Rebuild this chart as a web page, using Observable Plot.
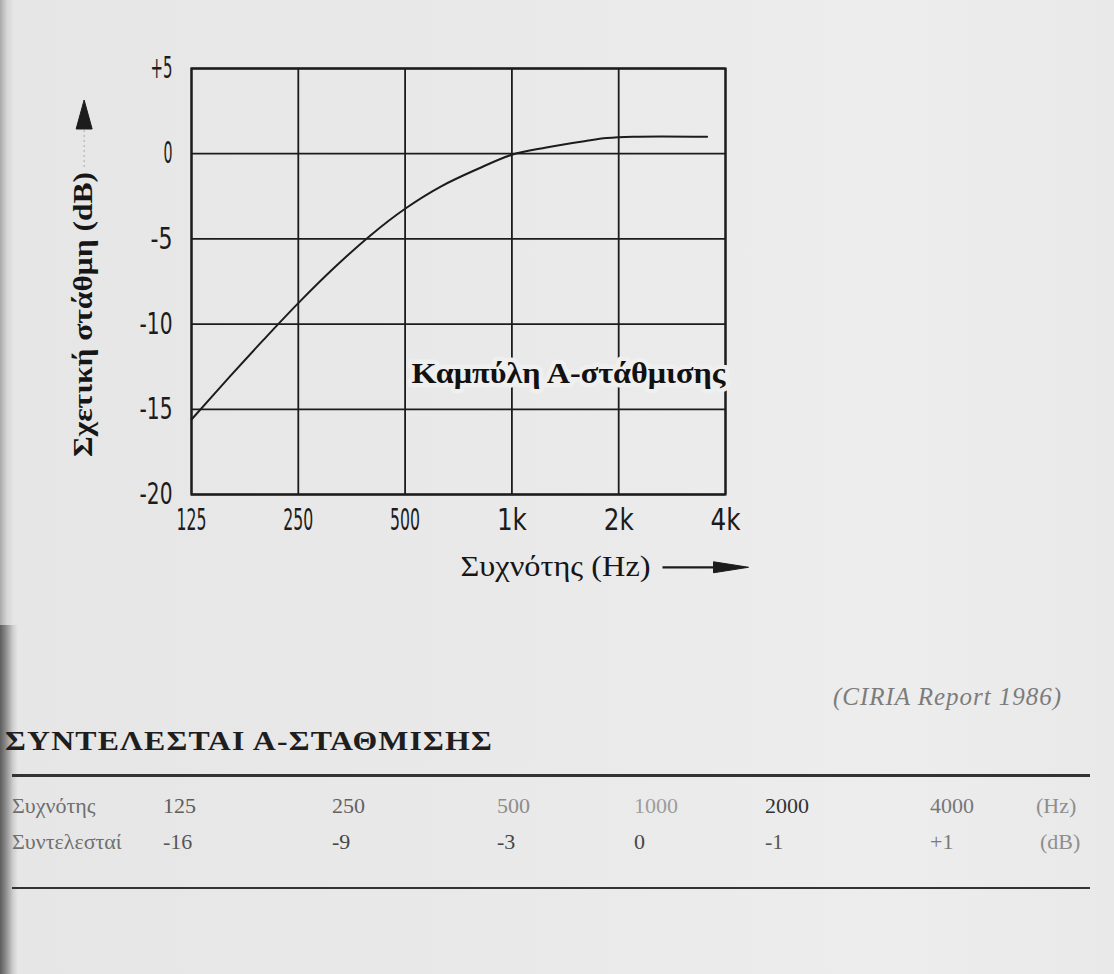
<!DOCTYPE html>
<html lang="el">
<head>
<meta charset="utf-8">
<title>Καμπύλη Α-στάθμισης</title>
<script src="https://cdn.jsdelivr.net/npm/d3@7"></script>
<script src="https://cdn.jsdelivr.net/npm/@observablehq/plot@0.6"></script>
<style>
  html, body { margin: 0; padding: 0; }
  body {
    width: 1114px; height: 974px; position: relative; overflow: hidden;
    background: linear-gradient(to right, #e6e6e6 0%, #e9e9e9 45%, #ededed 80%, #e9e9e9 100%);
    font-family: "Liberation Serif", "DejaVu Serif", serif;
  }
  .shadow { position: absolute; left: 0; width: 18px; }
  .shadow.top { top: 0; height: 625px; background: linear-gradient(to right, #a9a9a9 0px, #d6d6d6 7px, rgba(230,230,230,0) 14px); }
  .shadow.bottom { top: 625px; height: 349px; background: linear-gradient(to right, #5c5c5c 0px, #8d8d8d 6px, #cfcfcf 13px, rgba(230,230,230,0) 18px); }
  #chart { position: absolute; left: 0; top: 0; }
  #chart svg { overflow: visible; }
  .note { position: absolute; white-space: nowrap; line-height: 1; transform-origin: 0 50%; }
  #source { left: 833px; top: 684px; font-size: 25px; font-style: italic; color: #7c7c7c; }
  #table-title { left: 5px; top: 728px; font-size: 27px; font-weight: bold; color: #1e1e1e; letter-spacing: 1px; }
  .rule { position: absolute; left: 12px; width: 1078px; height: 2px; background: #333; }
  .cell { position: absolute; white-space: nowrap; line-height: 1; font-size: 22px; }
</style>
</head>
<body>
<div class="shadow top"></div>
<div class="shadow bottom"></div>
<div id="chart"></div>
<div id="source" class="note">(CIRIA Report 1986)</div>
<div id="table-title" class="note">ΣΥΝΤΕΛΕΣΤΑΙ Α-ΣΤΑΘΜΙΣΗΣ</div>
<div class="rule" style="top:774px;height:2.5px"></div>
<div id="table"></div>
<div class="rule" style="top:887px"></div>
<script>
// Frequency axis (octave bands) and level axis
const freqTicks = [125, 250, 500, 1000, 2000, 4000];
const freqTickLabels = ["125", "250", "500", "1k", "2k", "4k"];
const levelTicks = [-20, -15, -10, -5, 0, 5];
const levelTickLabels = ["-20", "-15", "-10", "-5", "0", "+5"];

// A-weighting curve, relative level (dB) against frequency (Hz)
const curveFreqs = [125, 160, 200, 250, 315, 400, 500, 630, 800, 1000, 1250, 1600, 1850, 2200, 3550];
const curveLevels = [-15.6, -13.1, -10.9, -8.77, -6.71, -4.78, -3.23, -1.93, -0.9, -0.06, 0.36, 0.73, 0.92, 1.0, 1.0];

// Curve annotation and where it sits on the chart
const curveLabel = "Καμπύλη Α-στάθμισης";
const curveLabelFreq = 1443;
const curveLabelLevel = -12.9;

const xLabel = "Συχνότης (Hz)";
const yLabel = "Σχετική στάθμη (dB)";

// Coefficient table
const rowLabels = ["Συχνότης", "Συντελεσταί"];
const tableFreqs = ["125", "250", "500", "1000", "2000", "4000"];
const tableCoefs = ["-16", "-9", "-3", "0", "-1", "+1"];
const rowUnits = ["(Hz)", "(dB)"];

const curve = curveFreqs.map((f, i) => ({ f, db: curveLevels[i] }));

const tickFont = "'DejaVu Sans', 'Liberation Sans', sans-serif";
const serif = "'Liberation Serif', 'DejaVu Serif', serif";
const ink = "#1c1c1c";

const svg = Plot.plot({
  width: 800,
  height: 600,
  marginLeft: 191,
  marginRight: 75,
  marginTop: 68,
  marginBottom: 106,
  style: { background: "transparent", color: ink },
  x: { type: "log", domain: [125, 4000] },
  y: { domain: [-20, 5] },
  marks: [
    Plot.ruleX(freqTicks, { stroke: ink, strokeWidth: 1.8 }),
    Plot.ruleY(levelTicks, { stroke: ink, strokeWidth: 1.8 }),
    Plot.frame({ stroke: ink, strokeWidth: 2.2 }),
    Plot.line(curve, { x: "f", y: "db", curve: "catmull-rom", stroke: ink, strokeWidth: 2 }),
    Plot.text([{ f: curveLabelFreq, db: curveLabelLevel, t: curveLabel }], {
      x: "f", y: "db", text: "t",
      fontSize: 30, fontWeight: "bold", fontFamily: serif,
      fill: "#111", stroke: "#efefef", strokeWidth: 9
    }),
    Plot.axisX(freqTicks, {
      tickFormat: d => freqTickLabels[freqTicks.indexOf(d)],
      tickSize: 0, tickPadding: 14, label: null,
      fontSize: 30, fontFamily: tickFont, fill: ink
    }),
    Plot.axisY(levelTicks, {
      tickFormat: d => levelTickLabels[levelTicks.indexOf(d)],
      tickSize: 0, tickPadding: 19, label: null,
      fontSize: 30, fontFamily: tickFont, fill: ink
    }),
    Plot.text([yLabel], {
      frameAnchor: "left", dx: -108, dy: 33, rotate: -90,
      textAnchor: "middle", lineAnchor: "middle",
      fontSize: 27, fontWeight: "bold", fontFamily: serif, fill: "#161616"
    }),
    Plot.text([xLabel], {
      frameAnchor: "bottom", dx: 97, dy: 72,
      textAnchor: "middle", lineAnchor: "middle",
      fontSize: 29, fontFamily: serif, fill: "#161616"
    })
  ]
});

document.getElementById("chart").append(svg);

const findText = s => [...svg.querySelectorAll("text")].find(t => t.textContent === s);

// Stretch (or squeeze) a piece of SVG text to a set length
function fitText(el, width, adjust = "spacingAndGlyphs") {
  if (!el) return;
  el.setAttribute("textLength", width);
  el.setAttribute("lengthAdjust", adjust);
}
fitText(findText(yLabel), 285);
fitText(findText(xLabel), 190);
fitText(findText(curveLabel), 314);

// Narrow plotter-style tick numerals
svg.querySelectorAll('[aria-label="x-axis tick label"] text').forEach(t => fitText(t, 30));
svg.querySelectorAll('[aria-label="y-axis tick label"] text').forEach(t => {
  const n = t.textContent.length;
  fitText(t, n === 1 ? 9 : n * 11);
});

// Direction arrows beside the axis titles
const svgBox = svg.getBoundingClientRect();
const box = el => {
  const r = el.getBoundingClientRect();
  return { left: r.left - svgBox.left, right: r.right - svgBox.left, top: r.top - svgBox.top, bottom: r.bottom - svgBox.top };
};
const arrows = d3.select(svg).append("g").attr("fill", ink).attr("stroke", ink);

const xb = box(findText(xLabel));
const xc = (xb.top + xb.bottom) / 2 + 1;
arrows.append("line")
  .attr("x1", xb.right + 12).attr("x2", xb.right + 70)
  .attr("y1", xc).attr("y2", xc).attr("stroke-width", 2.2);
arrows.append("path")
  .attr("d", `M${xb.right + 63},${xc - 5.5} L${xb.right + 98},${xc} L${xb.right + 63},${xc + 5.5} Z`)
  .attr("stroke-width", 1);

const yb = box(findText(yLabel));
const ycx = (yb.left + yb.right) / 2 + 1;
arrows.append("path")
  .attr("d", `M${ycx},${yb.top - 72} L${ycx + 8},${yb.top - 43} L${ycx - 8},${yb.top - 43} Z`)
  .attr("stroke-width", 1);
arrows.append("line")
  .attr("x1", ycx).attr("x2", ycx)
  .attr("y1", yb.top - 42).attr("y2", yb.top - 4)
  .attr("stroke", "#a8a8a8").attr("stroke-width", 1).attr("stroke-dasharray", "2 3");

// Widen the heading's letterforms to its set width; spread the source note
function stretchHtml(el, width) {
  const w = el.getBoundingClientRect().width;
  el.style.transform = `scaleX(${width / w})`;
}
function spreadHtml(el, width) {
  el.style.letterSpacing = "0px";
  const w = el.getBoundingClientRect().width;
  const n = [...el.textContent].length;
  el.style.letterSpacing = ((width - w) / n) + "px";
}
stretchHtml(document.getElementById("table-title"), 488);
spreadHtml(document.getElementById("source"), 229);

// Coefficient table
const table = document.getElementById("table");
const colLeft = [163, 332, 497, 634, 765, 930];
const unitLeft = [1036, 1040];
const rowTop = [795, 831];
const rowValues = [tableFreqs, tableCoefs];
const valueColors = [
  ["#5d5d5d", "#626262", "#8c8c8c", "#9c9c9c", "#333333", "#777777"],
  ["#575757", "#454545", "#454545", "#454545", "#555555", "#7a7a7a"]
];
const unitColors = ["#8e8e8e", "#8e8e8e"];
function cell(text, left, top, color) {
  const s = document.createElement("span");
  s.className = "cell";
  s.textContent = text;
  s.style.left = left + "px";
  s.style.top = top + "px";
  s.style.color = color;
  table.append(s);
}
rowLabels.forEach((lab, r) => {
  cell(lab, 12, rowTop[r], "#6f6f6f");
  rowValues[r].forEach((v, c) => cell(v, colLeft[c], rowTop[r], valueColors[r][c]));
  cell(rowUnits[r], unitLeft[r], rowTop[r], unitColors[r]);
});
</script>
</body>
</html>
